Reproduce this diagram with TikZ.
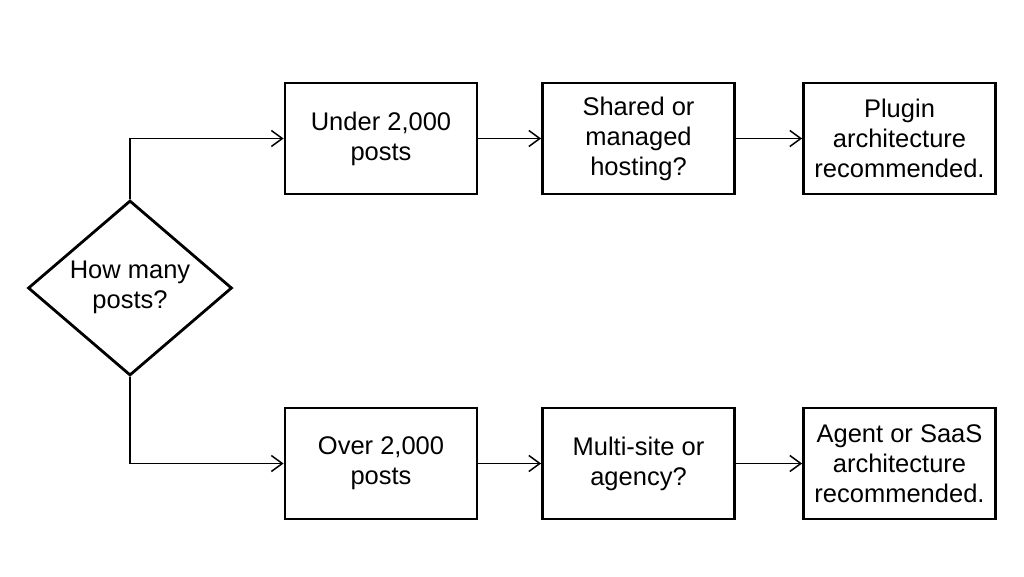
\documentclass[tikz,border=0pt]{standalone}
\usepackage{fontspec}
\setmainfont{Liberation Sans}
\usetikzlibrary{shapes.geometric,arrows.meta}
\begin{document}
\begin{tikzpicture}[x=1pt,y=-1pt,
  box/.style={draw,line width=2.8pt,minimum width=192pt,minimum height=111pt,inner sep=0pt,
    align=center,font=\fontsize{25.5}{30}\selectfont},
  txt/.style={align=center,font=\fontsize{25.5}{30}\selectfont},
  conn/.style={line width=1.5pt,-{Straight Barb[length=11pt,width=16pt,line width=1.5pt]}}]
\useasboundingbox[fill=white] (0,0) rectangle (1024,576);
\node[draw,diamond,line width=2.8pt,minimum width=204pt,minimum height=175pt,inner sep=0pt] (q) at (130,288) {};
\node[txt] (qt) at (130,287) {How many\\posts?};
\node[box] (b1) at (381,138.5) {Under 2,000\\posts};
\node[box] (b2) at (638.5,138.5) {Shared or\\managed\\hosting?};
\node[box] (b3) at (899.5,138.5) {Plugin\\architecture\\recommended.};
\node[box] (c1) at (381,463.5) {Over 2,000\\posts};
\node[box] (c2) at (638.5,463.5) {Multi-site or\\agency?};
\node[box] (c3) at (899.5,463.5) {Agent or SaaS\\architecture\\recommended.};
\draw[conn] (q.north) |- (b1.west);
\draw[conn] (q.south) |- (c1.west);
\draw[conn] (b1) -- (b2);
\draw[conn] (b2) -- (b3);
\draw[conn] (c1) -- (c2);
\draw[conn] (c2) -- (c3);
\end{tikzpicture}
\end{document}
